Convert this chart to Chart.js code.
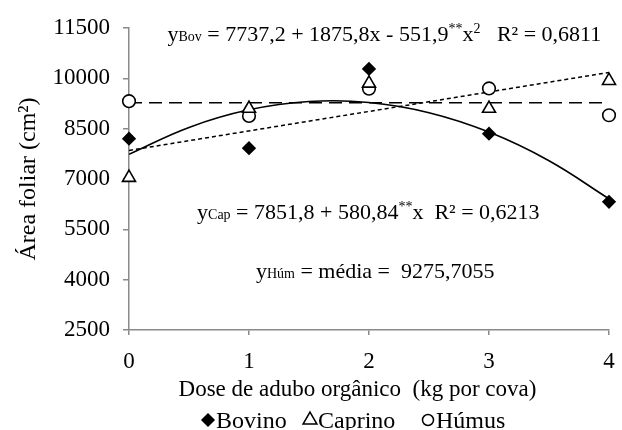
<!DOCTYPE html>
<html>
<head>
<meta charset="utf-8">
<script src="https://cdn.jsdelivr.net/npm/chart.js@4/dist/chart.umd.min.js"></script>
<style>
  html, body { margin: 0; padding: 0; background: #fff; }
  canvas { display: block; }
</style>
</head>
<body>
<canvas id="grafico" width="622" height="430"></canvas>
<script>
const doses = [0, 1, 2, 3, 4]
const bovino = [8200, 7920, 10280, 8350, 6320]
const caprino = [7040, 9100, 9850, 9100, 9930]
const humus = [9320, 8880, 9690, 9700, 8900]

// linhas de tendência
const dosesCurva = [0, 0.5, 1, 1.5, 2, 2.5, 3, 3.5, 4]
const bovinoCurva = [7737, 8537, 9061, 9308, 9281, 8977, 8398, 7544, 6410]
const dosesReta = [0, 4]
const caprinoReta = [7852, 10175]
const humusMedia = [9276, 9276]

const yTicks = [2500, 4000, 5500, 7000, 8500, 10000, 11500]
const xTicks = [0, 1, 2, 3, 4]
const legendas = ['Bovino', 'Caprino', 'Húmus']

const fonte = "'Liberation Serif', 'Times New Roman', serif"
const cinza = '#8a8a8a'

const pts = (xs, ys) => xs.map((x, i) => ({ x: x, y: ys[i] }))

// texto com partes menores (subscrito / sobrescrito)
const escreve = (ctx, x, y, partes) => {
    let cx = x
    partes.forEach(p => {
        const txt = p[0], tam = p[1] || 22, dy = p[2] || 0
        ctx.font = tam + 'px ' + fonte
        ctx.fillText(txt, cx, y + dy)
        cx += ctx.measureText(txt).width
    })
}

const marcadores = [
    { pointStyle: 'rectRot', radius: 6, fill: '#000' },
    { pointStyle: 'triangle', radius: 7.5, fill: '#fff' },
    { pointStyle: 'circle', radius: 6.3, fill: '#fff' }
]

const textos = {
    id: 'textos',
    afterDraw(chart) {
        const ctx = chart.ctx
        const xs = chart.scales.x, ys = chart.scales.y
        ctx.save()
        ctx.fillStyle = '#000'
        ctx.textBaseline = 'alphabetic'
        ctx.textAlign = 'left'

        escreve(ctx, xs.getPixelForValue(0.32), ys.getPixelForValue(11110), [
            ['y'], ['Bov', 14], [' = 7737,2 + 1875,8x - 551,9'], ['**', 14, -8], ['x'], ['2', 14, -8],
            ['   R² = 0,6811']
        ])
        escreve(ctx, xs.getPixelForValue(0.567), ys.getPixelForValue(5800), [
            ['y'], ['Cap', 14], [' = 7851,8 + 580,84'], ['**', 14, -8], ['x  R² = 0,6213']
        ])
        escreve(ctx, xs.getPixelForValue(1.058), ys.getPixelForValue(4060), [
            ['y'], ['Húm', 14], [' = média =  9275,7055']
        ])

        // legenda
        const lx = [208, 310, 428]
        const raios = [6, 8, 5.5]
        const ly = 420
        legendas.forEach((nome, i) => {
            const m = marcadores[i]
            ctx.fillStyle = m.fill
            ctx.strokeStyle = '#000'
            ctx.lineWidth = 1.5
            Chart.helpers.drawPoint(ctx, { pointStyle: m.pointStyle, radius: raios[i], borderWidth: 1.5, rotation: 0 }, lx[i], ly)
            ctx.fillStyle = '#000'
            ctx.font = '24px ' + fonte
            ctx.fillText(nome, lx[i] + 8, ly + 8)
        })
        ctx.restore()
    }
}

const serieMarcas = (label, ys, i) => ({
    label: label,
    data: pts(doses, ys),
    showLine: false,
    pointStyle: marcadores[i].pointStyle,
    pointRadius: marcadores[i].radius,
    pointBackgroundColor: marcadores[i].fill,
    pointBorderColor: '#000',
    pointBorderWidth: 1.6,
    clip: false
})

const ctx = document.getElementById('grafico').getContext('2d')
const grafico = new Chart(ctx, {
    type: 'scatter',
    data: {
        datasets: [
            serieMarcas(legendas[0], bovino, 0),
            serieMarcas(legendas[1], caprino, 1),
            serieMarcas(legendas[2], humus, 2),
            {
                label: 'tend-bov',
                data: pts(dosesCurva, bovinoCurva),
                showLine: true,
                borderColor: '#000',
                borderWidth: 1.6,
                tension: 0.4,
                pointRadius: 0
            },
            {
                label: 'tend-cap',
                data: pts(dosesReta, caprinoReta),
                showLine: true,
                borderColor: '#000',
                borderWidth: 1.5,
                borderDash: [4, 3],
                pointRadius: 0
            },
            {
                label: 'tend-hum',
                data: pts(dosesReta, humusMedia),
                showLine: true,
                borderColor: '#000',
                borderWidth: 1.5,
                borderDash: [13, 7],
                pointRadius: 0
            }
        ]
    },
    options: {
        responsive: false,
        animation: false,
        layout: { padding: { left: 0, right: 13, top: 28, bottom: 0 } },
        plugins: {
            legend: { display: false },
            tooltip: { enabled: false }
        },
        scales: {
            x: {
                type: 'linear',
                min: 0,
                max: 4,
                afterBuildTicks: s => { s.ticks = xTicks.map(v => ({ value: v })) },
                afterFit: s => {
                    s.height = 100
                    s.paddingLeft = 6
                    s.paddingRight = 6
                },
                grid: { drawOnChartArea: false, drawTicks: true, tickLength: 5, color: cinza, lineWidth: 1.5 },
                border: { color: cinza, width: 1.5 },
                ticks: { color: '#000', padding: 13, font: { family: fonte, size: 23 }, callback: v => String(v) },
                title: {
                    display: true,
                    text: 'Dose de adubo orgânico  (kg por cova)    ',
                    color: '#000',
                    font: { family: fonte, size: 23 },
                    padding: { top: 0, bottom: 26 }
                }
            },
            y: {
                min: 2500,
                max: 11500,
                afterBuildTicks: s => { s.ticks = yTicks.map(v => ({ value: v })) },
                afterFit: s => { s.width = 129 },
                grid: { drawOnChartArea: false, drawTicks: true, tickLength: 6, color: cinza, lineWidth: 1.5 },
                border: { color: cinza, width: 1.5 },
                ticks: { color: '#000', padding: 13, font: { family: fonte, size: 23 }, callback: v => String(v) },
                title: {
                    display: true,
                    text: 'Área foliar (cm²)',
                    color: '#000',
                    font: { family: fonte, size: 24 },
                    padding: { top: 14, bottom: 0 }
                }
            }
        }
    },
    plugins: [textos]
})
</script>
</body>
</html>
